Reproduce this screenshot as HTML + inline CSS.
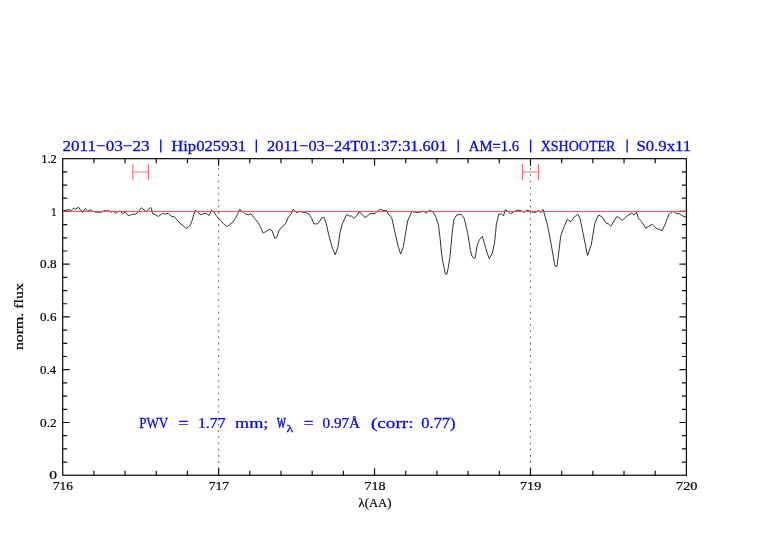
<!DOCTYPE html>
<html><head><meta charset="utf-8"><style>
html,body{margin:0;padding:0;background:#fff;}
body{width:782px;height:542px;overflow:hidden;position:relative;}
svg{position:absolute;left:0;top:0;will-change:transform;}
text{font-family:"Liberation Serif", serif;}
</style></head><body>
<svg width="782" height="542" viewBox="0 0 782 542">
<rect x="0" y="0" width="782" height="542" fill="#fff"/>
<path d="M63.0 211.1 L64.8 210.6 L68.9 209.4 L71.1 210.6 L73.7 208.3 L75.6 209.3 L78.4 207.2 L82.6 212.5 L85.4 208.4 L87.6 211.6 L90.0 209.6 L92.6 211.3 L95.6 212.2 L101.5 212.2 L104.5 210.4 L106.4 211.1 L108.6 210.4 L111.2 212.2 L113.0 211.1 L115.6 213.4 L118.3 211.5 L120.2 211.1 L122.4 213.4 L125.4 212.2 L128.0 215.4 L129.8 215.4 L131.7 214.3 L135.0 214.3 L137.3 213.0 L141.3 207.8 L146.2 211.5 L150.6 207.4 L151.4 208.2 L152.5 213.7 L155.1 214.5 L158.4 216.5 L162.8 213.2 L164.3 214.1 L168.4 213.4 L171.4 216.3 L174.1 216.5 L176.7 219.4 L180.8 224.1 L183.0 225.6 L186.0 228.4 L188.2 227.1 L190.4 224.9 L192.3 220.0 L193.7 214.8 L195.2 210.4 L197.8 211.5 L200.0 214.5 L201.9 214.5 L203.8 213.4 L206.7 213.5 L208.9 215.6 L210.7 212.0 L211.5 210.2 L213.8 211.9 L216.0 215.2 L219.0 218.9 L220.8 220.4 L223.4 223.7 L225.6 225.6 L227.6 226.3 L229.8 224.5 L232.8 222.3 L235.4 218.5 L237.6 214.1 L239.5 209.5 L241.7 210.8 L244.3 213.4 L246.9 214.5 L248.7 214.6 L251.0 213.6 L254.7 218.5 L258.4 223.0 L260.6 227.4 L263.2 233.0 L266.5 231.2 L269.9 229.2 L272.1 230.8 L274.7 238.2 L276.9 237.1 L279.2 230.0 L282.8 226.7 L286.1 222.8 L288.3 217.2 L291.1 214.2 L293.3 209.2 L296.7 212.8 L300.0 211.1 L302.2 212.2 L305.0 212.2 L309.5 214.5 L311.7 218.4 L313.9 223.9 L317.3 223.9 L319.5 221.7 L321.7 217.8 L323.9 217.2 L326.2 223.4 L328.9 235.6 L332.3 247.8 L335.1 254.9 L337.8 247.8 L340.1 232.3 L342.3 223.9 L346.7 214.5 L349.5 216.1 L351.7 216.1 L354.0 218.4 L356.8 215.6 L359.0 211.7 L363.4 215.6 L365.0 217.7 L370.0 213.8 L375.0 213.5 L379.4 209.4 L382.7 210.3 L386.6 210.7 L388.8 214.9 L391.6 217.2 L394.9 232.1 L398.2 246.5 L400.6 254.0 L403.2 247.6 L407.6 221.0 L412.0 211.1 L414.3 212.2 L420.4 212.2 L423.7 211.1 L426.2 213.3 L429.2 210.3 L432.5 211.5 L435.5 216.2 L438.5 225.1 L440.2 239.2 L441.5 253.1 L442.9 262.3 L444.3 268.8 L445.3 274.0 L447.0 274.0 L448.0 268.8 L449.9 257.7 L451.2 243.9 L452.2 232.8 L453.9 219.2 L456.9 214.8 L461.3 214.5 L464.3 218.5 L466.5 228.0 L467.5 232.4 L469.4 243.5 L470.5 250.8 L472.0 256.0 L473.5 258.3 L475.2 257.8 L475.7 254.5 L477.1 245.7 L479.3 239.8 L482.3 236.4 L484.5 243.5 L487.1 253.0 L489.3 258.6 L492.3 253.0 L494.5 243.5 L495.6 232.4 L496.3 225.0 L498.7 214.2 L501.6 214.2 L503.6 215.7 L505.3 209.5 L507.5 211.2 L510.5 213.7 L513.5 212.0 L517.1 210.2 L520.8 210.5 L524.2 212.3 L526.7 210.2 L530.4 211.2 L533.4 212.4 L536.3 212.0 L538.5 210.2 L540.8 212.7 L543.0 209.3 L547.4 224.5 L551.1 243.7 L554.8 265.8 L557.0 266.6 L560.7 236.3 L562.9 229.7 L567.3 219.4 L571.0 221.6 L574.2 217.1 L577.9 214.2 L580.1 218.6 L583.1 233.4 L587.5 255.5 L591.2 245.2 L594.9 223.0 L598.6 214.9 L602.3 217.1 L606.7 223.8 L608.2 223.5 L610.7 226.3 L617.0 216.4 L622.2 220.4 L627.4 215.7 L631.8 213.0 L634.0 215.2 L636.5 212.2 L638.3 217.8 L641.6 221.6 L645.8 228.2 L649.1 226.1 L652.4 224.2 L657.0 228.9 L659.0 229.2 L662.0 230.7 L664.9 224.9 L668.6 214.9 L671.1 212.4 L673.6 211.2 L675.6 213.3 L679.8 213.9 L683.1 216.2 L686.4 217.0" fill="none" stroke="#2a2a2a" stroke-width="0.95" stroke-linejoin="round"/>
<g stroke="#ff7070" stroke-width="1.2" fill="none">
<path d="M132.9 164.2V179.8M148.4 164.2V179.8M132.9 172H148.4"/>
<path d="M522.5 164.2V179.8M538.4 164.2V179.8M522.5 172H538.4"/>
</g>
<rect x="62.70" y="158.65" width="623.70" height="316.60" fill="none" stroke="#111" stroke-width="1.25"/>
<path d="M93.89 475.25V470.75M93.89 158.65V163.15M125.07 475.25V470.75M125.07 158.65V163.15M156.26 475.25V470.75M156.26 158.65V163.15M187.44 475.25V470.75M187.44 158.65V163.15M218.62 475.25V468.25M218.62 158.65V165.65M249.81 475.25V470.75M249.81 158.65V163.15M280.99 475.25V470.75M280.99 158.65V163.15M312.18 475.25V470.75M312.18 158.65V163.15M343.36 475.25V470.75M343.36 158.65V163.15M374.55 475.25V468.25M374.55 158.65V165.65M405.74 475.25V470.75M405.74 158.65V163.15M436.92 475.25V470.75M436.92 158.65V163.15M468.11 475.25V470.75M468.11 158.65V163.15M499.29 475.25V470.75M499.29 158.65V163.15M530.48 475.25V468.25M530.48 158.65V165.65M561.66 475.25V470.75M561.66 158.65V163.15M592.84 475.25V470.75M592.84 158.65V163.15M624.03 475.25V470.75M624.03 158.65V163.15M655.21 475.25V470.75M655.21 158.65V163.15M62.70 462.06H67.20M686.40 462.06H681.90M62.70 448.87H67.20M686.40 448.87H681.90M62.70 435.68H67.20M686.40 435.68H681.90M62.70 422.48H69.70M686.40 422.48H679.40M62.70 409.29H67.20M686.40 409.29H681.90M62.70 396.10H67.20M686.40 396.10H681.90M62.70 382.91H67.20M686.40 382.91H681.90M62.70 369.72H69.70M686.40 369.72H679.40M62.70 356.52H67.20M686.40 356.52H681.90M62.70 343.33H67.20M686.40 343.33H681.90M62.70 330.14H67.20M686.40 330.14H681.90M62.70 316.95H69.70M686.40 316.95H679.40M62.70 303.76H67.20M686.40 303.76H681.90M62.70 290.57H67.20M686.40 290.57H681.90M62.70 277.38H67.20M686.40 277.38H681.90M62.70 264.18H69.70M686.40 264.18H679.40M62.70 250.99H67.20M686.40 250.99H681.90M62.70 237.80H67.20M686.40 237.80H681.90M62.70 224.61H67.20M686.40 224.61H681.90M62.70 211.42H69.70M686.40 211.42H679.40M62.70 198.22H67.20M686.40 198.22H681.90M62.70 185.03H67.20M686.40 185.03H681.90M62.70 171.84H67.20M686.40 171.84H681.90" stroke="#111" stroke-width="1.2" fill="none"/>
<path d="M62.70 211.45H686.40" stroke="#ff4040" stroke-width="1.05" fill="none" opacity="0.85"/>
<g fill="#000" stroke="#000" stroke-width="0.2">
<text transform="translate(49.28 479.45) scale(1.2453 1)" font-size="12.5">0</text><text transform="translate(40.07 426.68) scale(1.0690 1)" font-size="12.5">0.2</text><text transform="translate(40.08 373.92) scale(1.0333 1)" font-size="12.5">0.4</text><text transform="translate(40.08 321.15) scale(1.0473 1)" font-size="12.5">0.6</text><text transform="translate(40.07 268.38) scale(1.0544 1)" font-size="12.5">0.8</text><text transform="translate(51.12 215.62) scale(0.8864 1)" font-size="12.5">1</text><text transform="translate(41.20 162.85) scale(1.0000 1)" font-size="12.5">1.2</text>
<text transform="translate(52.93 490.30) scale(1.0930 1)" font-size="12.2">716</text><text transform="translate(208.71 490.30) scale(1.1163 1)" font-size="12.2">717</text><text transform="translate(364.38 490.30) scale(1.1520 1)" font-size="12.2">718</text><text transform="translate(520.08 490.30) scale(1.1529 1)" font-size="12.2">719</text><text transform="translate(676.06 490.30) scale(1.1696 1)" font-size="12.2">720</text><text transform="translate(358.48 506.80) scale(1.0594 1)" font-size="12">λ(AA)</text>
<text transform="translate(23.4 350.08) rotate(-90) scale(1.2696 1)" font-size="12.5">norm. flux</text>
</g>
<g fill="#0000ff" stroke="#0000ff" stroke-width="0.25">
<text transform="translate(62.42 150.60) scale(1.1115 1)" font-size="15.4">2011−03−23</text><text transform="translate(171.17 150.60) scale(1.0824 1)" font-size="15.4">Hip025931</text><text transform="translate(267.06 150.60) scale(1.0637 1)" font-size="15.4">2011−03−24T01:37:31.601</text><text transform="translate(468.80 150.60) scale(0.9559 1)" font-size="15.4">AM=1.6</text><text transform="translate(540.73 150.60) scale(0.9083 1)" font-size="15.4">XSHOOTER</text><text transform="translate(636.41 150.60) scale(1.0887 1)" font-size="15.4">S0.9x11</text>
<text transform="translate(139.15 427.70) scale(0.8750 1)" font-size="15">PWV</text><text transform="translate(178.25 427.70) scale(1.2113 1)" font-size="15">=</text><text transform="translate(197.93 427.70) scale(1.0571 1)" font-size="15">1.77</text><text transform="translate(235.04 427.70) scale(1.2107 1)" font-size="15">mm;</text><text transform="translate(303.69 427.70) scale(1.1549 1)" font-size="15">=</text><text transform="translate(322.59 427.70) scale(1.0110 1)" font-size="15">0.97Å</text><text transform="translate(370.93 427.70) scale(1.2794 1)" font-size="15">(corr:</text><text transform="translate(421.35 427.70) scale(1.0930 1)" font-size="15">0.77)</text><text transform="translate(277.00 427.70) scale(0.6197 1)" font-size="15" stroke-width="0.6">W</text><text transform="translate(286.42 431.50) scale(1.2800 1)" font-size="11">λ</text>
</g>
<path d="M160.8 139.4V152.4M256.3 139.4V152.4M458.2 139.4V152.4M530.6 139.4V152.4M627.1 139.4V152.4" stroke="#0000ff" stroke-width="1.3" fill="none"/>
<path d="M218.62 168.2V475M530.48 168.2V475" stroke="#000" stroke-width="1.1" stroke-dasharray="1.6 4.636" fill="none" opacity="0.6"/>
</svg>
</body></html>
